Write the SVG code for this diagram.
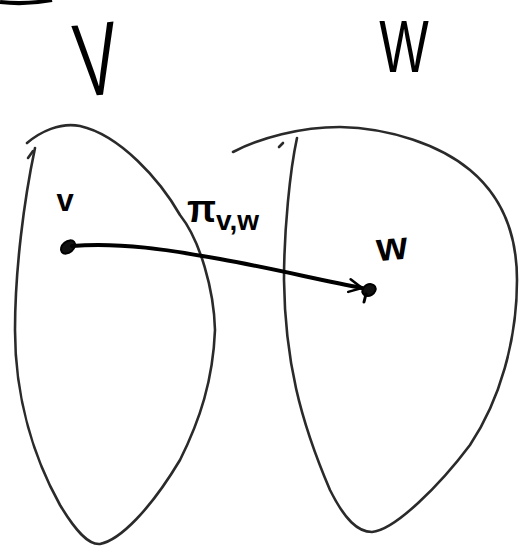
<svg xmlns="http://www.w3.org/2000/svg" width="528" height="554" viewBox="0 0 528 554">
<defs>
<style>
.outline{fill:none;stroke:#2a2a2a;stroke-width:2.6;stroke-linecap:round;stroke-linejoin:round}
.big{font-family:"Liberation Sans",Arial,sans-serif;fill:#000}
.hand{font-family:"Liberation Sans",Arial,sans-serif;fill:#000}
.conn{fill:none;stroke:#000;stroke-width:4;stroke-linecap:round}
.dot{fill:#111;stroke:#000;stroke-width:2}
</style>
<marker id="ah" viewBox="0 0 10 10" refX="9" refY="5" markerWidth="4" markerHeight="4" orient="auto" markerUnits="strokeWidth">
<path d="M1,1 L9,5 L1,9" fill="none" stroke="#000" stroke-width="1.6" stroke-linecap="round"/>
</marker>
</defs>
<rect width="528" height="554" fill="#fff"/>
<path d="M0,2 Q25,5 52,0" fill="none" stroke="#000" stroke-width="4"/>

<g id="node-V">
<path class="outline" d="M35,148 C24,200 15,270 15,330 C15,400 35,460 60,505 C75,530 88,545 100,544 C120,540 150,510 180,460 C200,420 213,380 215,330 C214,290 200,240 180,215 C160,180 120,135 80,126 C60,122 40,132 27,143"/>
<path class="outline" d="M28,158 L33,151"/>
<text class="big" text-anchor="middle" font-size="104" transform="translate(100,95) rotate(-6) scale(0.62,1)">V</text>
</g>

<g id="node-W">
<path class="outline" d="M297,138 C290,170 284,230 284,280 C285,360 300,420 330,490 C345,520 358,532 372,532 C395,530 440,485 470,445 C500,400 517,340 517,280 C517,230 500,195 470,170 C440,145 390,128 340,127 C300,127 260,138 233,152"/>
<path class="outline" d="M279,147 L283,143"/>
<text class="big" text-anchor="middle" font-size="75" transform="translate(404,72) scale(0.7,1)">W</text>
</g>

<g id="node-v">
<text class="hand" text-anchor="middle" font-size="31" font-weight="bold" x="65" y="211">v</text>
<ellipse class="dot" cx="68" cy="247" rx="8" ry="5.5" transform="rotate(-40 68 247)"/>
</g>

<g id="node-w">
<text class="hand" text-anchor="middle" font-size="40" font-weight="bold" transform="translate(393,260) rotate(-5)">w</text>
<ellipse class="dot" cx="369" cy="290" rx="7" ry="5.5" transform="rotate(-30 369 290)"/>
<path d="M366,294 L364,302" stroke="#000" stroke-width="3" stroke-linecap="round"/>
</g>

<g id="connectors">
<path class="conn" d="M72,246 C120,242 170,250 220,259 C270,268 320,280 362,288" marker-end="url(#ah)"/>
<text class="hand" font-weight="bold" x="187" y="222"><tspan font-size="38">π</tspan><tspan font-size="28" dy="8">v,w</tspan></text>
</g>
</svg>
